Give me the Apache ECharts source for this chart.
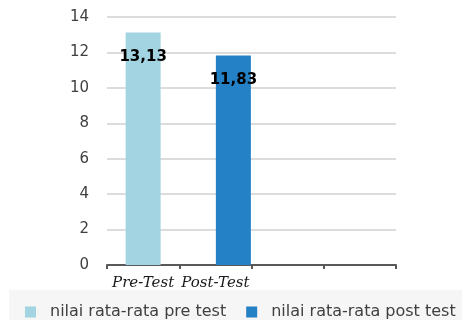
<!DOCTYPE html>
<html>
<head>
<meta charset="utf-8">
<script src="https://cdn.jsdelivr.net/npm/echarts@6/dist/echarts.min.js"></script>
<style>
  html, body { margin: 0; padding: 0; background: #ffffff; }
  #chart { width: 462px; height: 320px; }
</style>
</head>
<body>
<div id="chart"></div>
<script>
// Category slots along the x axis (the last two are empty)
const categories = ['Pre-Test', 'Post-Test', '', ''];
// Mean scores per series
const preTestValues = [13.13, '-', '-', '-'];
const postTestValues = ['-', 11.83, '-', '-'];
const seriesNames = ['nilai rata-rata pre test', 'nilai rata-rata post test'];
// Value axis scale
const yMin = 0, yMax = 14, yStep = 2;

const preColor = '#a3d4e1';
const postColor = '#2581c6';
const textFont = '"DejaVu Sans", "Noto Sans", sans-serif';

function commaDecimal(p) {
  return Number(p.value).toFixed(2).replace('.', ',');
}

const barLabel = {
  show: true,
  position: 'insideTop',
  distance: 17,
  formatter: commaDecimal,
  fontFamily: textFont,
  fontWeight: 'bold',
  fontSize: 15,
  color: '#000000'
};

const chart = echarts.init(document.getElementById('chart'), null, { renderer: 'canvas' });

chart.setOption({
  animation: false,
  backgroundColor: '#ffffff',
  graphic: [
    // pale band behind the legend
    {
      type: 'rect',
      left: 9, top: 290,
      shape: { width: 453, height: 30 },
      style: { fill: '#f6f6f6' },
      z: -1,
      silent: true
    }
  ],
  grid: [
    { left: 107, right: 66, top: 17, bottom: 55 },
    // second layer for the post-test bar, sitting slightly to the right in its slot
    { left: 125, right: 48, top: 17, bottom: 55 }
  ],
  legend: {
    left: 25,
    top: 304,
    padding: 0,
    icon: 'rect',
    itemWidth: 11,
    itemHeight: 11,
    itemGap: 20,
    textStyle: {
      fontFamily: textFont,
      fontSize: 16,
      color: '#404040',
      padding: [0, 0, 0, 9]
    },
    data: seriesNames
  },
  xAxis: [
    {
      type: 'category',
      gridIndex: 0,
      data: categories,
      axisLine: { lineStyle: { color: '#595959', width: 2 } },
      axisTick: { show: true, length: 4, lineStyle: { color: '#595959', width: 2 } },
      axisLabel: {
        interval: 0,
        margin: 11,
        fontFamily: '"DejaVu Serif", "Liberation Serif", serif',
        fontStyle: 'italic',
        fontSize: 15,
        color: '#1a1a1a'
      }
    },
    {
      type: 'category',
      gridIndex: 1,
      data: categories,
      show: false
    }
  ],
  yAxis: [
    {
      type: 'value',
      gridIndex: 0,
      min: yMin, max: yMax, interval: yStep,
      axisLine: { show: false },
      axisTick: { show: false },
      splitLine: { lineStyle: { color: '#d0d0d0', width: 1.5 } },
      axisLabel: { margin: 18, fontFamily: textFont, fontSize: 15, color: '#404040' }
    },
    {
      type: 'value',
      gridIndex: 1,
      min: yMin, max: yMax, interval: yStep,
      show: false,
      splitLine: { show: false }
    }
  ],
  series: [
    {
      name: seriesNames[0],
      type: 'bar',
      xAxisIndex: 0,
      yAxisIndex: 0,
      barWidth: 35,
      data: preTestValues,
      itemStyle: { color: preColor },
      label: barLabel
    },
    {
      name: seriesNames[1],
      type: 'bar',
      xAxisIndex: 1,
      yAxisIndex: 1,
      barWidth: 35,
      data: postTestValues,
      itemStyle: { color: postColor },
      label: barLabel
    }
  ]
});
</script>
</body>
</html>
